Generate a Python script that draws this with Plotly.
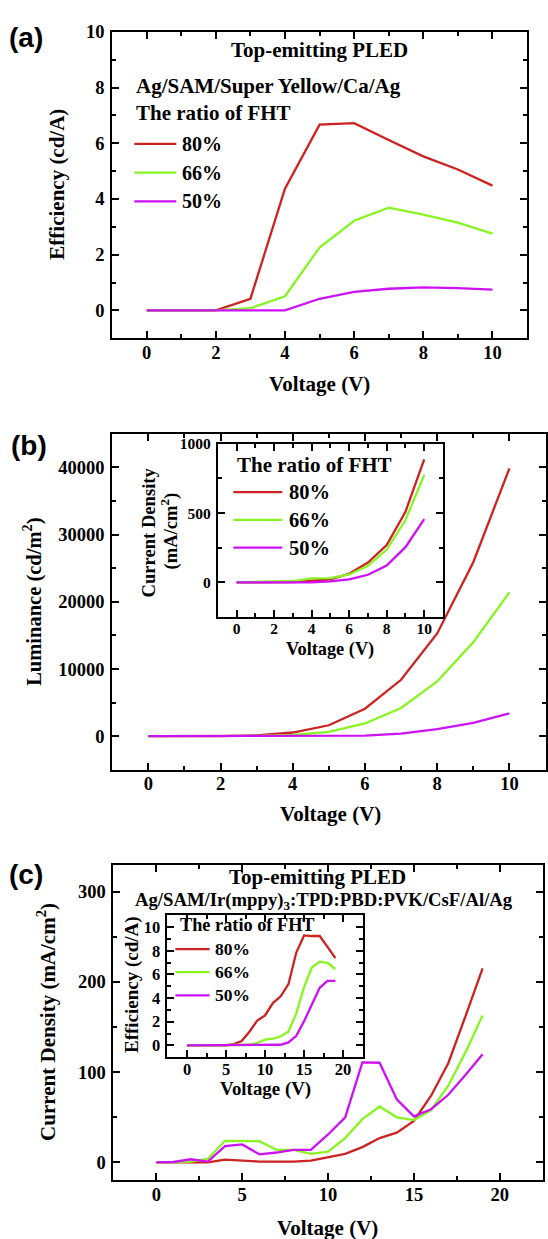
import plotly.graph_objects as go

# ---------------- data ----------------
ratios = ["80%", "66%", "50%"]
colors = ["#CC2222", "#88F522", "#CC11F5"]

# (a) efficiency, Super Yellow device
volt_a = [0, 1, 2, 3, 4, 5, 6, 7, 8, 9, 10]
eff_a_80 = [0, 0, 0, 0.42, 4.37, 6.67, 6.72, 6.12, 5.53, 5.06, 4.48]
eff_a_66 = [0, 0, 0, 0.08, 0.51, 2.26, 3.22, 3.69, 3.44, 3.15, 2.76]
eff_a_50 = [0, 0, 0, 0, 0, 0.42, 0.67, 0.78, 0.83, 0.80, 0.75]

# (b) luminance (main) and current density (inset)
volt_b = [0, 1, 2, 3, 4, 5, 6, 7, 8, 9, 10]
lum_80 = [0, 0, 0, 120, 550, 1630, 4100, 8400, 15300, 25900, 39850]
lum_66 = [0, 0, 0, 40, 180, 650, 1900, 4200, 8150, 14000, 21400]
lum_50 = [0, 0, 0, 0, 0, 40, 100, 400, 1050, 2000, 3400]
jb_80 = [0, 0, 0, 2, 12, 22, 62, 143, 270, 510, 888]
jb_66 = [0, 2, 5, 10, 29, 31, 57, 120, 237, 450, 775]
jb_50 = [0, 0, 0, 0, 0, 7, 22, 55, 122, 254, 457]

# (c) current density (main) and efficiency (inset), Ir(mppy)3 device
volt_c = list(range(0, 20))
jc_80 = [0, 0, 0, 0, 3, 2, 1, 1, 1, 2, 5.5, 9.5, 17, 27, 33, 46, 74, 110, 162, 215]
jc_66 = [0, 0, 1, 4, 24, 24, 23.5, 14, 14, 9.5, 12, 27, 48, 62, 50, 47, 58, 85, 122, 163]
jc_50 = [0, 0.5, 3.5, 1, 18, 20, 9, 11, 14, 14, 31, 50, 111, 110.5, 70, 51, 59, 75, 97, 120]
effc_80 = [0, 0, 0, 0, 0, 0, 0.1, 0.36, 1.15, 2.1, 2.54, 3.58, 4.15, 5.18, 7.85, 9.3, 9.25, 9.25, 8.33, 7.38]
effc_66 = [0, 0, 0, 0, 0, 0, 0, 0, 0.05, 0.2, 0.48, 0.56, 0.75, 1.17, 2.7, 4.93, 6.6, 7.07, 6.99, 6.46]
effc_50 = [0, 0, 0, 0, 0, 0, 0, 0, 0, 0, 0, 0, 0.05, 0.25, 0.81, 2.05, 3.5, 4.87, 5.45, 5.45]

# ---------------- helpers ----------------
W, H = 548, 1239
SERIF = "Liberation Serif"


def fx(p):
    return p / W


def fy(p):
    return 1 - p / H


fig = go.Figure()

panels = [
    ("x", "y", volt_a, [eff_a_80, eff_a_66, eff_a_50]),
    ("x2", "y2", volt_b, [lum_80, lum_66, lum_50]),
    ("x3", "y3", volt_b, [jb_80, jb_66, jb_50]),
    ("x4", "y4", volt_c, [jc_80, jc_66, jc_50]),
    ("x5", "y5", volt_c, [effc_80, effc_66, effc_50]),
]
for xa, ya, xs, series in panels:
    for name, col, ys in zip(ratios, colors, series):
        fig.add_trace(go.Scatter(x=xs, y=ys, mode="lines", name=name,
                                 line=dict(color=col, width=2.3),
                                 xaxis=xa, yaxis=ya, showlegend=False))


def axis(domain, rng, dtick, mdtick, anchor, size=18.5, standoff=2):
    return dict(domain=domain, range=rng, anchor=anchor, dtick=dtick, tick0=0,
                showline=True, linewidth=2, linecolor="black", mirror="allticks",
                ticks="inside", ticklen=7, tickwidth=1.6, tickcolor="black",
                minor=dict(ticks="inside", ticklen=4, dtick=mdtick, tick0=0,
                           tickwidth=1.6, tickcolor="black"),
                showgrid=False, zeroline=False, ticklabelstandoff=standoff,
                tickformat="d",
                tickfont=dict(family=SERIF, size=size, color="black", weight="bold"))


XS = -4
layout = dict(
    width=W, height=H, margin=dict(l=0, r=0, t=0, b=0),
    paper_bgcolor="white", plot_bgcolor="white", showlegend=False,
    xaxis=axis([fx(112.3), fx(528)], [-1, 11], 2, 1, "y", standoff=XS),
    yaxis=axis([fy(331), fy(22)], [-1, 10], 2, 1, "x"),
    xaxis2=axis([fx(112.4), fx(546.5)], [-1, 11], 2, 1, "y2", standoff=XS),
    yaxis2=axis([fy(766), fy(427.3)], [-5000, 45000], 10000, 5000, "x2"),
    xaxis3=axis([fx(218.2), fx(443.8)], [-1, 11], 2, 1, "y3", 15.5, standoff=XS),
    yaxis3=axis([fy(612), fy(437.3)], [-250, 1000], 500, 250, "x3", 15.5),
    xaxis4=axis([fx(113.6), fx(543.7)], [-2.5, 22.5], 5, 2.5, "y4", standoff=XS),
    yaxis4=axis([fy(1180), fy(861.7)], [-20, 330], 100, 50, "x4"),
    xaxis5=axis([fx(167.8), fx(363.3)], [-2.5, 22.5], 5, 2.5, "y5", 16.5, standoff=XS),
    yaxis5=axis([fy(1055.7), fy(912.7)], [-1, 11], 2, 1, "x5", 16.5),
)
fig.update_layout(**layout)

ann = []


def text(t, x, y, size, anchor="center", angle=0, family=SERIF):
    ann.append(dict(text=t, x=fx(x), y=fy(y), xref="paper", yref="paper",
                    xanchor=anchor, yanchor="middle", showarrow=False, textangle=angle,
                    font=dict(family=family, size=size, color="black", weight="bold")))


shapes = []


def legend(x0, x1, xt, ys, size):
    for name, col, y in zip(ratios, colors, ys):
        shapes.append(dict(type="line", xref="paper", yref="paper",
                           x0=fx(x0), x1=fx(x1), y0=fy(y), y1=fy(y),
                           line=dict(color=col, width=2.3)))
        text(name, xt, y, size, anchor="left")


# panel (a)
text("(a)", 26.5, 28, 28, family="Liberation Sans")
text("Top-emitting PLED", 320, 40.7, 21)
text("Ag/SAM/Super Yellow/Ca/Ag", 134.6, 76.7, 21, anchor="left")
text("The ratio of FHT", 134.6, 104, 21, anchor="left")
legend(134.6, 176.6, 180.8, [135, 164, 193], 20)
text("Voltage (V)", 320, 376.7, 21)
text("Efficiency (cd/A)", 57.5, 175.7, 21, angle=-90)

# panel (b)
text("(b)", 29, 439, 28, family="Liberation Sans")
text("Luminance (cd/m<sup>2</sup>)", 33, 596.7, 20.5, angle=-90)
text("Voltage (V)", 331.6, 810.7, 21)
text("The ratio of FHT", 235.2, 458.3, 21, anchor="left")
legend(233.8, 282.8, 287.7, [486, 514, 542], 20.5)
text("Voltage (V)", 330.2, 645, 18.3)
text("Current Density", 148.3, 526.7, 18.6, angle=-90)
text("(mA/cm<sup>2</sup>)", 170, 525, 18.6, angle=-90)

# panel (c)
text("(c)", 26.5, 872, 28, family="Liberation Sans")
text("Top-emitting PLED", 317.8, 874, 21)
text("Ag/SAM/Ir(mppy)<sub>3</sub>:TPD:PBD:PVK/CsF/Al/Ag", 325, 898, 18.7)
text("Current Density (mA/cm<sup>2</sup>)", 47.2, 1020, 21, angle=-90)
text("Voltage (V)", 328.3, 1228, 21)
text("The ratio of FHT", 178.3, 922.7, 18.3, anchor="left")
legend(175.7, 210, 213.3, [946.7, 970, 993.3], 17.5)
text("Voltage (V)", 266.3, 1088, 18.9)
text("Efficiency (cd/A)", 131.7, 982.5, 19, angle=-90)

fig.update_layout(annotations=ann, shapes=shapes)
fig.write_html("out.html",
               config={"displayModeBar": False},
               post_script="document.body.style.margin='0px';"
                           "document.body.style.overflow='hidden';")
